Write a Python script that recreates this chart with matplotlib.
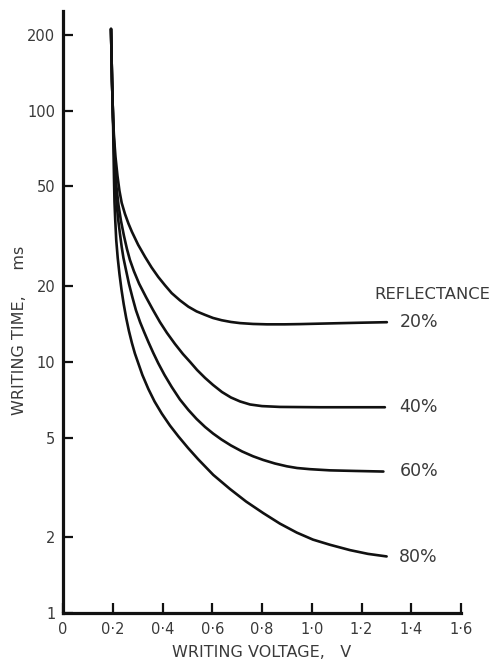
import matplotlib
matplotlib.use("Agg")
import matplotlib.pyplot as plt
from matplotlib.ticker import FixedLocator, NullLocator

# ---- data (writing voltage V, writing time ms) ----
v20 = [0.193, 0.197, 0.201, 0.205, 0.211, 0.219, 0.227, 0.236, 0.249, 0.263,
       0.277, 0.302, 0.330, 0.356, 0.383, 0.410, 0.437, 0.470, 0.504, 0.537,
       0.571, 0.603, 0.638, 0.675, 0.712, 0.764, 0.820, 0.892, 0.953, 1.085,
       1.194, 1.302]
t20 = [212, 133, 94.6, 78.8, 65.6, 55.1, 48.0, 43.0, 38.9, 35.6,
       33.0, 29.3, 26.2, 23.8, 21.8, 20.2, 18.8, 17.6, 16.6, 15.9,
       15.4, 14.97, 14.66, 14.43, 14.28, 14.17, 14.12, 14.12, 14.15, 14.25,
       14.33, 14.40]

v40 = [0.193, 0.197, 0.201, 0.205, 0.209, 0.215, 0.223, 0.233, 0.245, 0.257,
       0.269, 0.285, 0.306, 0.334, 0.362, 0.390, 0.418, 0.450, 0.482, 0.511,
       0.539, 0.571, 0.603, 0.639, 0.675, 0.712, 0.752, 0.800, 0.872, 1.033,
       1.294]
t40 = [212, 133, 94.6, 75.2, 60.9, 49.8, 42.2, 36.5, 31.8, 28.2,
       25.5, 23.0, 20.5, 18.1, 16.1, 14.4, 13.05, 11.8, 10.76, 10.0,
       9.29, 8.64, 8.10, 7.59, 7.22, 6.96, 6.77, 6.67, 6.62, 6.60,
       6.60]

v60 = [0.193, 0.197, 0.201, 0.204, 0.207, 0.211, 0.216, 0.222, 0.229, 0.236,
       0.243, 0.253, 0.265, 0.279, 0.293, 0.310, 0.326, 0.344, 0.363, 0.383,
       0.408, 0.437, 0.470, 0.504, 0.537, 0.571, 0.603, 0.637, 0.675, 0.720,
       0.764, 0.805, 0.852, 0.900, 0.941, 0.993, 1.073, 1.174, 1.288]
t60 = [212, 133, 94.6, 76.6, 62.1, 50.2, 42.2, 36.8, 32.4, 28.7,
       25.96, 23.3, 20.5, 18.1, 16.1, 14.4, 13.17, 11.96, 10.86, 9.88,
       8.88, 7.95, 7.09, 6.44, 5.93, 5.51, 5.19, 4.91, 4.65, 4.40,
       4.21, 4.07, 3.94, 3.84, 3.78, 3.74, 3.70, 3.68, 3.66]

v80 = [0.193, 0.197, 0.201, 0.203, 0.205, 0.207, 0.210, 0.214, 0.220, 0.227,
       0.235, 0.244, 0.254, 0.265, 0.277, 0.289, 0.303, 0.319, 0.343, 0.368,
       0.397, 0.430, 0.464, 0.503, 0.544, 0.604, 0.671, 0.736, 0.805, 0.872,
       0.940, 1.005, 1.073, 1.154, 1.226, 1.301]
t80 = [212, 133, 94.6, 69.9, 54.1, 43.4, 36.8, 30.6, 25.96, 22.4,
       19.45, 17.0, 14.97, 13.29, 11.9, 10.81, 9.86, 8.88, 7.81, 6.96,
       6.23, 5.58, 5.05, 4.54, 4.09, 3.55, 3.12, 2.78, 2.50, 2.27,
       2.09, 1.96, 1.87, 1.78, 1.72, 1.68]

labels = ["20%", "40%", "60%", "80%"]
label_y = [14.4, 6.6, 3.68, 1.67]

xticks = [0, 0.2, 0.4, 0.6, 0.8, 1.0, 1.2, 1.4, 1.6]
xticklabels = ["0", "0·2", "0·4", "0·6", "0·8", "1·0", "1·2", "1·4", "1·6"]
yticks = [1, 2, 5, 10, 20, 50, 100, 200]
yticklabels = ["1", "2", "5", "10", "20", "50", "100", "200"]

txt = "#3a3a3a"
plt.rcParams['font.family'] = ['DejaVu Sans']

fig = plt.figure(figsize=(4.96, 6.62), dpi=100)
ax = fig.add_axes([63/496, 49/662, 398/496, 602/662])

for v, t in [(v20, t20), (v40, t40), (v60, t60), (v80, t80)]:
    ax.plot(v, t, color="#111111", lw=1.9, solid_capstyle="round", solid_joinstyle="round")

ax.set_yscale("log")
ax.set_xlim(0, 1.6)
ax.set_ylim(1, 250)

ax.yaxis.set_major_locator(FixedLocator(yticks))
ax.yaxis.set_minor_locator(NullLocator())
ax.set_yticklabels(yticklabels)
ax.set_xticks(xticks)
ax.set_xticklabels(xticklabels)

for s in ["top", "right"]:
    ax.spines[s].set_visible(False)
for s in ["left", "bottom"]:
    ax.spines[s].set_linewidth(2.3)
    ax.spines[s].set_color("#111111")

ax.tick_params(axis="both", direction="in", length=7, width=1.6, color="#111111",
               labelsize=10.5, labelcolor=txt)
ax.tick_params(axis="y", pad=5.5)
ax.tick_params(axis="x", pad=6.5)

for lab, y in zip(labels, label_y):
    ax.text(1.352, y, lab, fontsize=12.5, color=txt, va="center", ha="left")
ax.text(1.250, 18.5, "REFLECTANCE", fontsize=11.8, color=txt, va="center", ha="left")

ax.set_xlabel("WRITING VOLTAGE,   V", fontsize=11.5, color=txt, labelpad=6)
ax.set_ylabel("WRITING TIME,     ms", fontsize=11.5, color=txt)
ax.yaxis.set_label_coords(-0.09, 0.47)

fig.savefig("out.png", dpi=100)
